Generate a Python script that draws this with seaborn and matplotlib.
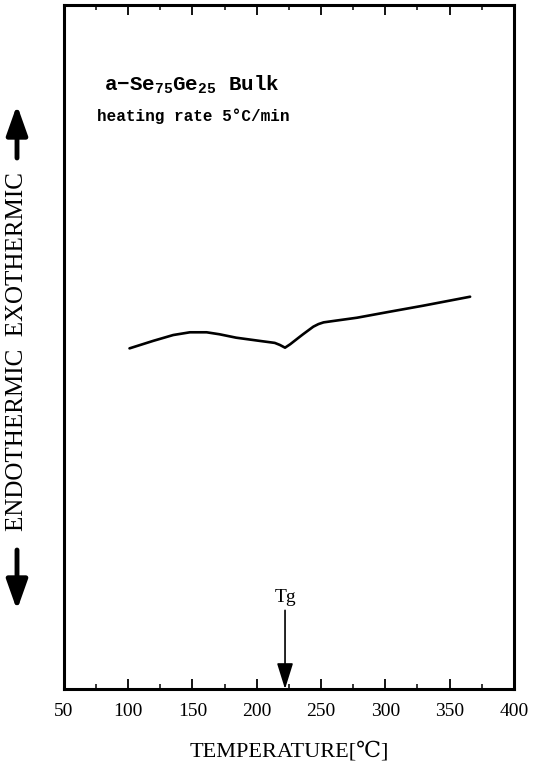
import matplotlib
matplotlib.use("Agg")
import matplotlib.pyplot as plt
import seaborn as sns
import pandas as pd

# DSC trace of bulk a-Se75Ge25 (arbitrary heat-flow units)
temperature = [101, 119.5, 135, 148, 161, 171, 184, 202, 214, 218, 222,
               226, 233.5, 236, 244, 248, 252, 259.5, 278, 303.5, 329.5, 366]
heat_flow = [49.8, 50.9, 51.75, 52.15, 52.15, 51.86, 51.36, 50.9, 50.6, 50.3, 49.9,
             50.4, 51.5, 51.86, 52.97, 53.35, 53.6, 53.8, 54.28, 55.16, 56.04, 57.35]
tick_values = [50, 100, 150, 200, 250, 300, 350, 400]
tg_temperature = 222

df = pd.DataFrame({"T": temperature, "Q": heat_flow})

sns.set_style("white")
plt.rcParams["font.family"] = ["Liberation Serif", "DejaVu Serif"]
plt.rcParams["text.color"] = "black"
plt.rcParams["axes.labelcolor"] = "black"
plt.rcParams["xtick.color"] = "black"
plt.rcParams["mathtext.fontset"] = "custom"
plt.rcParams["mathtext.rm"] = "Liberation Mono:bold"
plt.rcParams["mathtext.bf"] = "Liberation Mono:bold"
plt.rcParams["mathtext.default"] = "bf"

fig = plt.figure(figsize=(5.33, 7.66), dpi=100)
ax = fig.add_axes([0.120, 0.1005, 0.844, 0.893])

sns.lineplot(data=df, x="T", y="Q", ax=ax, color="black", linewidth=1.9,
             estimator=None, sort=False)

ax.set_xlim(50, 400)
ax.set_ylim(0, 100)
ax.set_xticks(tick_values)
ax.set_xticks(range(75, 400, 50), minor=True)
ax.set_xticklabels([str(v) for v in tick_values], fontsize=14)
ax.set_yticks([])
ax.tick_params(axis="x", which="major", direction="in", length=7, width=1.3,
               top=True, bottom=True, pad=10, color="black", labelcolor="black")
ax.tick_params(axis="x", which="minor", direction="in", length=3.5, width=1.1,
               top=True, bottom=True, color="black")
for s in ax.spines.values():
    s.set_visible(True)
    s.set_color("black")
    s.set_linewidth(2.2)

ax.set_xlabel("TEMPERATURE[℃]", fontsize=16, labelpad=16, color="black")
ax.set_ylabel("")

# Glass-transition marker
ax.annotate("", xy=(tg_temperature, 0), xytext=(tg_temperature, 11.5),
            arrowprops=dict(arrowstyle="-|>,head_length=1.6,head_width=0.5",
                            color="black", lw=1.2, shrinkA=0, shrinkB=0))
ax.text(tg_temperature, 12.2, "Tg", ha="center", va="bottom", fontsize=14)

# Sample annotation
mono = ["Liberation Mono", "DejaVu Sans Mono"]
ax.text(0.090, 0.875, r"a−Se$_{75}$Ge$_{25}$ Bulk", transform=ax.transAxes,
        fontsize=15, fontweight="bold", family=mono, va="baseline")
ax.text(0.074, 0.830, "heating rate 5°C/min", transform=ax.transAxes,
        fontsize=11.5, fontweight="bold", family=mono, va="baseline")

# Endothermic / exothermic direction label
fig.text(17 / 533, 1 - 352 / 766, "ENDOTHERMIC  EXOTHERMIC", rotation=90,
         ha="center", va="center", fontsize=18)
for y0, y1 in [(158, 105), (550, 610)]:
    fig.patches.append(matplotlib.patches.FancyArrowPatch(
        (17 / 533, 1 - y0 / 766), (17 / 533, 1 - y1 / 766),
        transform=fig.transFigure, arrowstyle="-|>,head_length=9,head_width=3.2",
        mutation_scale=2, color="black", lw=3.5, shrinkA=0, shrinkB=0))

fig.savefig("out.png", dpi=100)
